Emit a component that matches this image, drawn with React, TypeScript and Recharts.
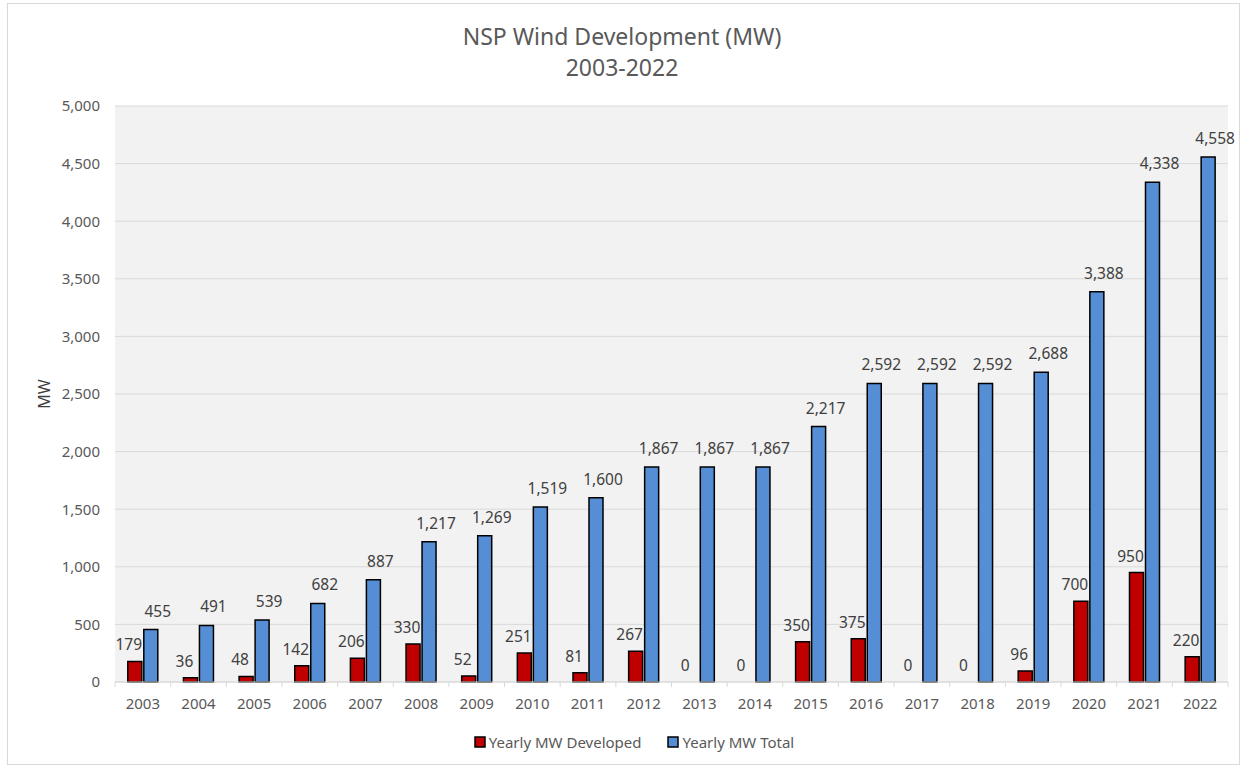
import React from "react";
import { BarChart, Bar, XAxis, YAxis, CartesianGrid, Legend, LabelList, Label } from "recharts";

const years = ["2003", "2004", "2005", "2006", "2007", "2008", "2009", "2010", "2011", "2012", "2013", "2014", "2015", "2016", "2017", "2018", "2019", "2020", "2021", "2022"];
const developed = [179, 36, 48, 142, 206, 330, 52, 251, 81, 267, 0, 0, 350, 375, 0, 0, 96, 700, 950, 220];
const total = [455, 491, 539, 682, 887, 1217, 1269, 1519, 1600, 1867, 1867, 1867, 2217, 2592, 2592, 2592, 2688, 3388, 4338, 4558];
const yTicks = [0, 500, 1000, 1500, 2000, 2500, 3000, 3500, 4000, 4500, 5000];

const data = years.map((year, i) => ({ year, developed: developed[i], total: total[i] }));

const FONT = "'Noto Sans', 'Open Sans', sans-serif";
const TEXT = "#595959";
const RED = "#C00000";
const BLUE = "#558ED5";

const W = 1244;
const H = 768;
const M = { top: 106, right: 16, left: 40, bottom: 31 };
const Y_W = 75;
const GAP = 2;
const band = (W - M.left - Y_W - M.right) / years.length;

const fmt = (v: number) => v.toLocaleString("en-US");

// year label plus Excel-style tick marks between categories
function YearTick(props: any) {
  const { x, y, payload, index } = props;
  const last = index === years.length - 1;
  return (
    <g>
      <line x1={x - band / 2} x2={x - band / 2} y1={y} y2={y + 5} stroke="#d9d9d9" />
      {last && <line x1={x + band / 2} x2={x + band / 2} y1={y} y2={y + 5} stroke="#d9d9d9" />}
      <text x={x} y={y + 27} textAnchor="middle" fontSize={15} fill={TEXT} fontFamily={FONT}>
        {payload.value}
      </text>
    </g>
  );
}

const labelText = (x: number, y: number, value: number) => (
  <text x={x} y={y} textAnchor="middle" fontSize={15.5} fill="#404040" fontFamily={FONT}>
    {fmt(value)}
  </text>
);

const redLabel = (props: any) => {
  const { x, y, width, value } = props;
  return labelText(x + width / 2 - 6, y - 11, value);
};

// zero-height red bars are not drawn, so their "0" label hangs off the blue bar
const blueLabel = (props: any) => {
  const { x, y, width, height, value, index } = props;
  const base = y + height;
  return (
    <g>
      {labelText(x + width / 2 + 7, y - 13, value)}
      {developed[index] === 0 && labelText(x - GAP - width / 2 - 6, base - 11, 0)}
    </g>
  );
};

function LegendBox() {
  const items = [
    { name: "Yearly MW Developed", color: RED },
    { name: "Yearly MW Total", color: BLUE },
  ];
  return (
    <div style={{ display: "flex", justifyContent: "center", gap: 26, fontFamily: FONT, fontSize: 15, color: TEXT }}>
      {items.map((it) => (
        <div key={it.name} style={{ display: "flex", alignItems: "center" }}>
          <svg width={12} height={12} style={{ marginRight: 3 }}>
            <rect x={1} y={1} width={10} height={10} fill={it.color} stroke="#000" strokeWidth={1.5} />
          </svg>
          <span>{it.name}</span>
        </div>
      ))}
    </div>
  );
}

export default function App() {
  return (
    <div style={{ position: "absolute", left: 0, top: 0, width: W, height: H, background: "#fff" }}>
      <div style={{ position: "absolute", left: 7, top: 3, width: 1233, height: 762, border: "1px solid #d9d9d9", boxSizing: "border-box" }} />
      <div style={{ position: "absolute", left: 0, top: 21, width: W, textAlign: "center", fontFamily: FONT, fontSize: 23, color: TEXT, lineHeight: "31px" }}>
        <div>NSP Wind Development (MW)</div>
        <div>2003-2022</div>
      </div>
      <BarChart width={W} height={H} data={data} margin={M} barCategoryGap="23%" barGap={GAP}>
        <CartesianGrid vertical={false} stroke="#d9d9d9" fill="#f2f2f2" />
        <XAxis
          dataKey="year"
          axisLine={{ stroke: "#d9d9d9" }}
          tickLine={false}
          tickSize={0}
          tickMargin={0}
          height={35}
          interval={0}
          tick={<YearTick />}
        />
        <YAxis
          width={Y_W}
          domain={[0, 5000]}
          ticks={yTicks}
          axisLine={false}
          tickLine={false}
          tickMargin={9}
          tickFormatter={fmt}
          tick={{ fontSize: 15, fill: TEXT, fontFamily: FONT }}
        >
          <Label value="MW" angle={-90} position="insideLeft" offset={4} style={{ fontSize: 16, fill: "#404040", fontFamily: FONT, textAnchor: "middle" }} />
        </YAxis>
        <Legend verticalAlign="bottom" content={<LegendBox />} wrapperStyle={{ bottom: 16 }} />
        <Bar dataKey="developed" name="Yearly MW Developed" fill={RED} stroke="#000" strokeWidth={1.5} isAnimationActive={false}>
          <LabelList dataKey="developed" content={redLabel} />
        </Bar>
        <Bar dataKey="total" name="Yearly MW Total" fill={BLUE} stroke="#000" strokeWidth={1.5} isAnimationActive={false}>
          <LabelList dataKey="total" content={blueLabel} />
        </Bar>
      </BarChart>
    </div>
  );
}
